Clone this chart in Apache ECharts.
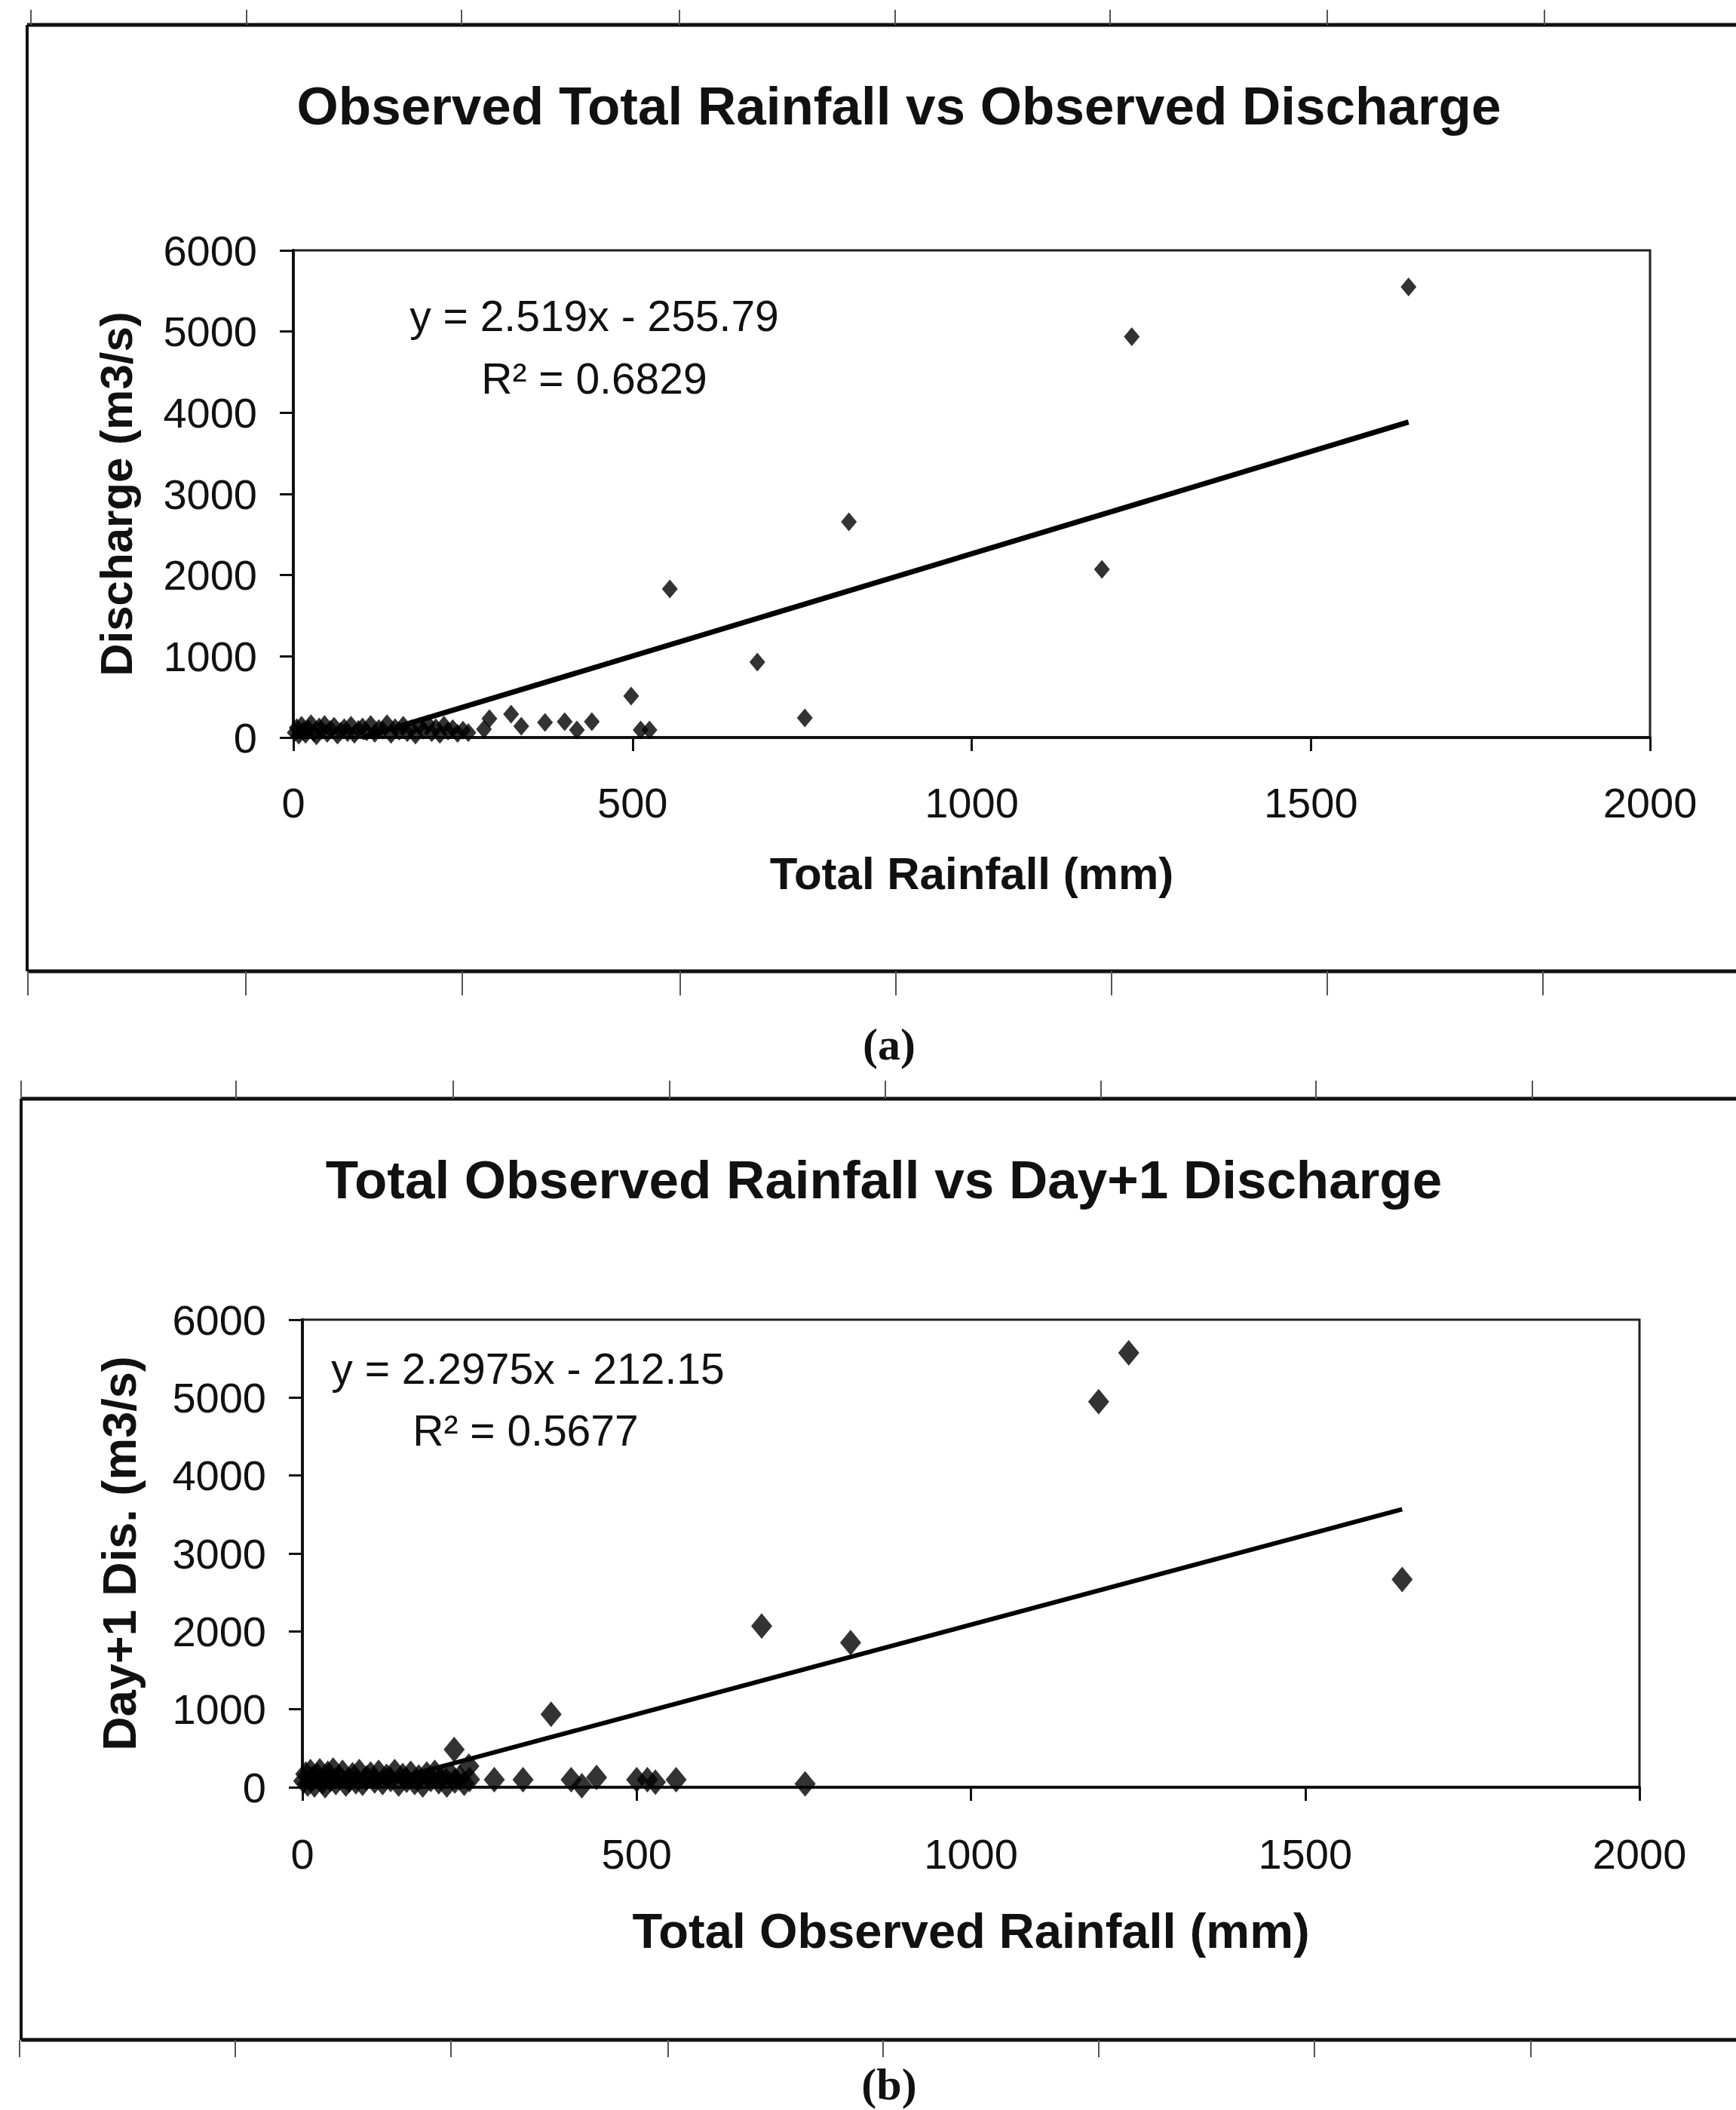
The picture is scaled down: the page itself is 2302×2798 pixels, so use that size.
<!DOCTYPE html>
<html>
<head>
<meta charset="utf-8">
<script src="https://cdn.jsdelivr.net/npm/echarts@6/dist/echarts.min.js"></script>
<style>
html,body{margin:0;padding:0;background:#fff;}
#c{width:2302px;height:2798px;}
</style>
</head>
<body>
<div id="c"></div>
<script>
// ---------- DATA ----------
var titleA = 'Observed Total Rainfall vs Observed Discharge';
var titleB = 'Total Observed Rainfall vs Day+1 Discharge';
var xNameA = 'Total Rainfall (mm)';
var yNameA = 'Discharge (m3/s)';
var xNameB = 'Total Observed Rainfall (mm)';
var yNameB = 'Day+1 Dis. (m3/s)';
var eqA = ['y = 2.519x - 255.79', 'R\u00b2 = 0.6829'];
var eqB = ['y = 2.2975x - 212.15', 'R\u00b2 = 0.5677'];
var xTicks = [0, 500, 1000, 1500, 2000];
var yTicks = [0, 1000, 2000, 3000, 4000, 5000, 6000];

// (a) rainfall (mm) vs discharge (m3/s)
var rainA = [2,5,8,12,15,18,22,26,30,34,38,42,46,50,55,60,65,70,75,80,85,90,96,102,108,114,120,126,132,138,144,150,156,162,168,174,180,186,192,198,204,210,216,222,228,235,242,250,258,
             281,289,321,336,371,400,418,440,498,512,525,555,684,754,819,1192,1236,1644];
var disA  = [60,120,30,150,80,40,110,170,60,20,130,90,160,50,100,140,30,80,120,60,150,40,100,130,70,160,50,110,90,170,40,120,80,150,60,110,30,140,90,170,60,120,40,150,80,110,50,90,60,
             102,232,288,139,186,195,93,195,511,93,93,1830,929,241,2656,2071,4937,5550];
// trendline endpoints (a)
var trendAx = [101.5, 1644];
var trendAy = [0, 3885];

// (b) rainfall (mm) vs day+1 discharge (m3/s)
var rainB = [2,5,8,12,15,18,22,26,30,34,38,42,46,50,55,60,65,70,75,80,85,90,96,102,108,114,120,126,132,138,144,150,156,162,168,174,180,186,192,198,204,210,216,222,228,235,242,250,
             227,249,287,330,372,402,418,440,500,516,528,559,687,752,820,1191,1236,1645];
var disB  = [80,170,40,200,110,30,150,210,70,20,180,100,220,60,130,190,40,90,160,70,200,50,120,170,80,190,60,140,100,200,40,150,90,180,60,130,30,170,100,190,70,140,30,160,80,120,50,100,
             483,271,97,97,937,97,19,126,97,97,65,97,2068,43,1855,4947,5575,2667];
// trendline endpoints (b)
var trendBx = [92.3, 1645];
var trendBy = [0, 3567];

// ---------- BUILD ----------
function pairs(xs, ys){ var o=[]; for(var i=0;i<xs.length;i++) o.push([xs[i], ys[i]]); return o; }

var FONT = '"Liberation Sans", Arial, sans-serif';
var chart = echarts.init(document.getElementById('c'), null, {renderer:'svg', width:2302, height:2798});

function xAxis(gi, name, gap, lblMargin, nameSize){
  return {
    type:'value', gridIndex:gi, min:0, max:2000, interval:500,
    name:name, nameLocation:'middle', nameGap:gap,
    nameTextStyle:{fontFamily:FONT, fontWeight:'bold', fontSize:nameSize, color:'#111'},
    axisLine:{show:true, onZero:false, lineStyle:{color:'#111', width:4}},
    axisTick:{show:true, inside:false, length:18, lineStyle:{color:'#111', width:3}},
    axisLabel:{show:true, margin:lblMargin, fontFamily:FONT, fontSize:56, color:'#111',
      formatter:function(v){ return xTicks.indexOf(v)>=0 ? String(v) : ''; }},
    splitLine:{show:false}
  };
}
function yAxis(gi, name, gap, nameSize){
  return {
    type:'value', gridIndex:gi, min:0, max:6000, interval:1000,
    name:name, nameLocation:'middle', nameGap:gap, nameRotate:90,
    nameTextStyle:{fontFamily:FONT, fontWeight:'bold', fontSize:nameSize, color:'#111'},
    axisLine:{show:true, onZero:false, lineStyle:{color:'#111', width:4}},
    axisTick:{show:true, inside:false, length:18, lineStyle:{color:'#111', width:3}},
    axisLabel:{show:true, margin:48, fontFamily:FONT, fontSize:56, color:'#111',
      formatter:function(v){ return yTicks.indexOf(v)>=0 ? String(v) : ''; }},
    splitLine:{show:false}
  };
}

var graphics = [];
function line(x1,y1,x2,y2,w,c){ graphics.push({type:'line', shape:{x1:x1,y1:y1,x2:x2,y2:y2}, style:{stroke:c||'#111', lineWidth:w}, silent:true}); }
function text(t,x,y,font,align){ graphics.push({type:'text', x:x, y:y, style:{text:t, font:font, fill:'#111', textAlign:align||'center', textVerticalAlign:'middle'}, silent:true}); }

// outer frames
line(36,33,2302,33,5); line(36,33,36,1288,4); line(36,1288,2302,1288,5);
line(28,1457,2302,1457,5); line(28,1457,28,2705,4); line(28,2705,2302,2705,5);
// ruler ticks
[41,327,612,901,1187,1472,1760,2048].forEach(function(x){ line(x,13,x,33,2,'#555'); });
[37,326,613,902,1188,1474,1760,2046].forEach(function(x){ line(x,1288,x,1320,2,'#555'); });
[28,313,601,888,1174,1460,1745,2032].forEach(function(x){ line(x,1433,x,1457,2,'#555'); });
[26,312,598,886,1171,1457,1743,2030].forEach(function(x){ line(x,2705,x,2728,2,'#555'); });

// equations
text(eqA[0], 788, 419, '57px ' + FONT);
text(eqA[1], 788, 502, '57px ' + FONT);
text(eqB[0], 700, 1815, '57px ' + FONT);
text(eqB[1], 697, 1897, '57px ' + FONT);
// captions
text('(a)', 1179, 1385, 'bold 60px "Liberation Serif", "Times New Roman", serif');
text('(b)', 1179, 2764, 'bold 60px "Liberation Serif", "Times New Roman", serif');

var option = {
  backgroundColor:'#fff',
  animation:false,
  title:[
    {text:titleA, left:1187, top:100, textAlign:'center', textStyle:{fontFamily:FONT, fontWeight:'bold', fontSize:71, color:'#111'}},
    {text:titleB, left:1167, top:1524, textAlign:'center', textStyle:{fontFamily:FONT, fontWeight:'bold', fontSize:71, color:'#111'}}
  ],
  grid:[
    {left:389, top:332, width:1799, height:646, show:true, borderColor:'#222', borderWidth:3, backgroundColor:'transparent'},
    {left:401, top:1750, width:1773, height:620, show:true, borderColor:'#222', borderWidth:3, backgroundColor:'transparent'}
  ],
  xAxis:[ xAxis(0, xNameA, 150, 58, 60), xAxis(1, xNameB, 158, 60, 65) ],
  yAxis:[ yAxis(0, yNameA, 205, 60), yAxis(1, yNameB, 212, 63) ],
  series:[
    {type:'scatter', xAxisIndex:0, yAxisIndex:0, data:pairs(rainA, disA), symbol:'diamond', symbolSize:[21,25], itemStyle:{color:'#000'}},
    {type:'line', xAxisIndex:0, yAxisIndex:0, data:pairs(trendAx, trendAy), symbol:'none', lineStyle:{color:'#000', width:7}},
    {type:'scatter', xAxisIndex:1, yAxisIndex:1, data:pairs(rainB, disB), symbol:'diamond', symbolSize:[28,34], itemStyle:{color:'#000'}},
    {type:'line', xAxisIndex:1, yAxisIndex:1, data:pairs(trendBx, trendBy), symbol:'none', lineStyle:{color:'#000', width:6}}
  ],
  graphic:graphics
};
chart.setOption(option);
</script>
</body>
</html>
